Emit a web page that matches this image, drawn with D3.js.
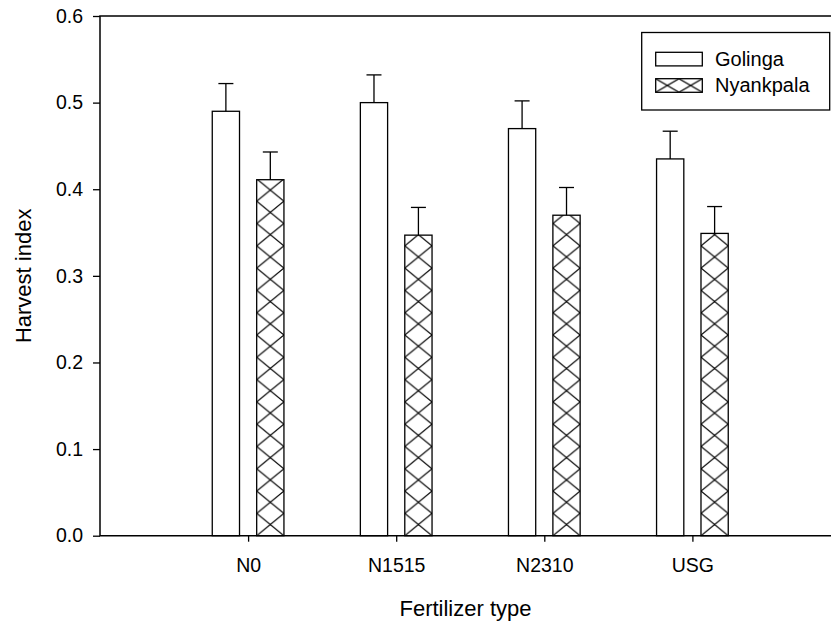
<!DOCTYPE html>
<html>
<head>
<meta charset="utf-8">
<script src="https://cdn.jsdelivr.net/npm/d3@7"></script>
<style>
  body { margin: 0; background: #fff; }
  svg text { font-family: "Liberation Sans", Arial, sans-serif; fill: #000; }
</style>
</head>
<body>
<div id="vis"></div>
<script>
// data
const categories = ["N0", "N1515", "N2310", "USG"];
const seriesNames = ["Golinga", "Nyankpala"];
const golinga = [0.490, 0.500, 0.470, 0.435];
const golingaErr = [0.032, 0.032, 0.032, 0.032];
const nyankpala = [0.411, 0.347, 0.370, 0.349];
const nyankpalaErr = [0.032, 0.032, 0.032, 0.031];
const yTicks = [0.0, 0.1, 0.2, 0.3, 0.4, 0.5, 0.6];

const W = 831, H = 628;
const plotLeft = 100, plotTop = 16, plotBottom = 535.7;

const svg = d3.select("#vis").append("svg")
  .attr("width", W)
  .attr("height", H);

// x: category i sits at position i+1, axis runs 0..5 (right end is cut off by the image)
const x = d3.scaleLinear().domain([0, 5]).range([plotLeft, plotLeft + 5 * 148.1]);
const y = d3.scaleLinear().domain([0, 0.6]).range([plotBottom, plotTop]);

const barW = 0.184;   // in category units
const offs = [-0.242, 0.058];

const bars = [];
categories.forEach((c, i) => {
  bars.push({cat: c, pos: i + 1, s: 0, v: golinga[i], e: golingaErr[i]});
  bars.push({cat: c, pos: i + 1, s: 1, v: nyankpala[i], e: nyankpalaErr[i]});
});

// crosshatch patterns, one per hatched bar so the tiles line up with the bar edges
const defs = svg.append("defs");
function hatch(id, x0, y0, w, h) {
  const p = defs.append("pattern")
    .attr("id", id)
    .attr("patternUnits", "userSpaceOnUse")
    .attr("x", x0).attr("y", y0)
    .attr("width", w).attr("height", h);
  p.append("rect").attr("width", w).attr("height", h).attr("fill", "#fff");
  p.append("path")
    .attr("d", `M0,0L${w},${h}M${w},0L0,${h}`)
    .attr("stroke", "#000")
    .attr("stroke-width", 1.2)
    .attr("fill", "none");
}

bars.filter(d => d.s === 1).forEach((d, i) => {
  const x0 = x(d.pos + offs[1]);
  const x1 = x(d.pos + offs[1] + barW);
  hatch("hatch" + i, x0, plotBottom, x1 - x0, 22.3);
  d.fill = "url(#hatch" + i + ")";
});

// bars
svg.append("g").selectAll("rect")
  .data(bars)
  .join("rect")
  .attr("x", d => x(d.pos + offs[d.s]))
  .attr("width", d => x(d.pos + offs[d.s] + barW) - x(d.pos + offs[d.s]))
  .attr("y", d => y(d.v))
  .attr("height", d => y(0) - y(d.v))
  .attr("fill", d => d.s === 1 ? d.fill : "#fff")
  .attr("stroke", "#000")
  .attr("stroke-width", 1.3);

// error bars (upper only)
const err = svg.append("g").attr("stroke", "#000").attr("stroke-width", 1.3);
err.selectAll("line.v")
  .data(bars)
  .join("line")
  .attr("class", "v")
  .attr("x1", d => x(d.pos + offs[d.s] + barW / 2))
  .attr("x2", d => x(d.pos + offs[d.s] + barW / 2))
  .attr("y1", d => y(d.v))
  .attr("y2", d => y(d.v + d.e));
err.selectAll("line.cap")
  .data(bars)
  .join("line")
  .attr("class", "cap")
  .attr("x1", d => x(d.pos + offs[d.s] + barW / 2) - 7.5)
  .attr("x2", d => x(d.pos + offs[d.s] + barW / 2) + 7.5)
  .attr("y1", d => y(d.v + d.e))
  .attr("y2", d => y(d.v + d.e));

// axes
const yAxis = svg.append("g")
  .attr("transform", `translate(${plotLeft},0)`)
  .call(d3.axisLeft(y).tickValues(yTicks).tickFormat(d3.format(".1f")).tickSize(7).tickPadding(10));
const xAxis = svg.append("g")
  .attr("transform", `translate(0,${plotBottom})`)
  .call(d3.axisBottom(x).tickValues(categories.map((c, i) => i + 1))
    .tickFormat((d, i) => categories[i]).tickSize(6).tickPadding(16));

[xAxis, yAxis].forEach(a => {
  a.select(".domain").remove();
  a.selectAll("line").attr("stroke", "#000").attr("stroke-width", 1.3);
  a.selectAll("text").style("font-size", "19.5px").attr("fill", "#000");
});

// frame: left, bottom and top lines
svg.append("path")
  .attr("d", `M${W},${plotTop}H${plotLeft}V${plotBottom}H${W}`)
  .attr("fill", "none")
  .attr("stroke", "#000")
  .attr("stroke-width", 1.5);

// axis titles
svg.append("text")
  .attr("x", (plotLeft + W) / 2)
  .attr("y", 616)
  .attr("text-anchor", "middle")
  .style("font-size", "22px")
  .text("Fertilizer type");
svg.append("text")
  .attr("transform", `translate(31,${(plotTop + plotBottom) / 2}) rotate(-90)`)
  .attr("text-anchor", "middle")
  .style("font-size", "22px")
  .text("Harvest index");

// legend
const lg = svg.append("g");
lg.append("rect")
  .attr("x", 641.7).attr("y", 32.5)
  .attr("width", 188).attr("height", 77.5)
  .attr("fill", "#fff")
  .attr("stroke", "#000")
  .attr("stroke-width", 1.3);
hatch("hatchLegend", 655.7, 78.7, 23.3, 13.6);
seriesNames.forEach((name, i) => {
  lg.append("rect")
    .attr("x", 655.7).attr("y", 52.3 + i * 26.4)
    .attr("width", 46.6).attr("height", 13.6)
    .attr("fill", i === 1 ? "url(#hatchLegend)" : "#fff")
    .attr("stroke", "#000")
    .attr("stroke-width", 1.3);
  lg.append("text")
    .attr("x", 715).attr("y", 65.5 + i * 26.4)
    .style("font-size", "20px")
    .text(name);
});
</script>
</body>
</html>
